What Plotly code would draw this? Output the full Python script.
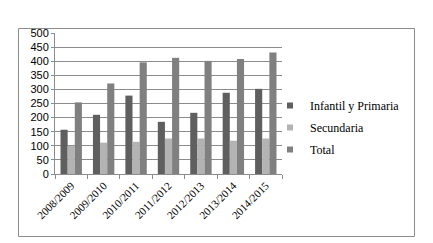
import plotly.graph_objects as go

categories = ["2008/2009", "2009/2010", "2010/2011", "2011/2012", "2012/2013", "2013/2014", "2014/2015"]
infantil_primaria = [157, 210, 278, 185, 217, 288, 302]
secundaria = [100, 111, 114, 126, 126, 118, 126]
total = [254, 321, 396, 412, 401, 408, 431]
series_names = ["Infantil y Primaria", "Secundaria", "Total"]
series_colors = ["#5f5f5f", "#b3b3b3", "#808080"]
y_ticks = list(range(0, 501, 50))

W, H = 433, 243
L, R, T, B = 55, 282, 33, 174

fig = go.Figure()
for name, vals, col in zip(series_names, [infantil_primaria, secundaria, total], series_colors):
    fig.add_bar(x=categories, y=vals, name=name, marker_color=col, marker_line_width=0,
                showlegend=False, legendgroup=name)
# legend entries with small square markers
for name, col in zip(series_names, series_colors):
    fig.add_scatter(x=[None], y=[None], mode="markers", name=name, legendgroup=name,
                    marker=dict(symbol="square", size=6, color=col), showlegend=True)

def px2x(px):
    return (px - L) / (R - L)

def py2y(py):
    return (B - py) / (B - T)

fig.add_shape(type="rect", xref="paper", yref="paper",
              x0=px2x(18.5), x1=px2x(414.5), y0=py2y(236.5), y1=py2y(28.5),
              line=dict(color="#8c8c8c", width=1), fillcolor="rgba(0,0,0,0)", layer="below")

fig.update_layout(
    width=W, height=H,
    margin=dict(l=L, r=W - R, t=T, b=H - B, pad=0),
    paper_bgcolor="white", plot_bgcolor="white",
    barmode="group", bargap=0.34, bargroupgap=0,
    font=dict(family="Liberation Serif", size=12, color="black"),
    showlegend=True,
    legend=dict(x=px2x(270), y=py2y(91), xanchor="left", yanchor="top",
                font=dict(family="Liberation Serif", size=12, color="black"),
                itemwidth=30, bgcolor="rgba(0,0,0,0)", tracegroupgap=3,
                itemclick=False, itemdoubleclick=False),
)
fig.update_xaxes(
    type="category", tickangle=-45, tickson="boundaries",
    ticks="outside", ticklen=4, tickcolor="#8c8c8c",
    showline=True, linecolor="#8c8c8c", linewidth=1,
    showgrid=False,
    tickfont=dict(family="Liberation Serif", size=11, color="black"),
)
fig.update_yaxes(
    range=[0, 500], tickvals=y_ticks,
    ticks="outside", ticklen=3, tickcolor="#8c8c8c",
    showline=True, linecolor="#8c8c8c", linewidth=1,
    showgrid=True, gridcolor="#8c8c8c", gridwidth=1,
    zeroline=False,
    tickfont=dict(family="Liberation Sans", size=11, color="black"),
)

fig.write_html("out.html", post_script="document.body.style.margin='0';",
               config={"displayModeBar": False})
